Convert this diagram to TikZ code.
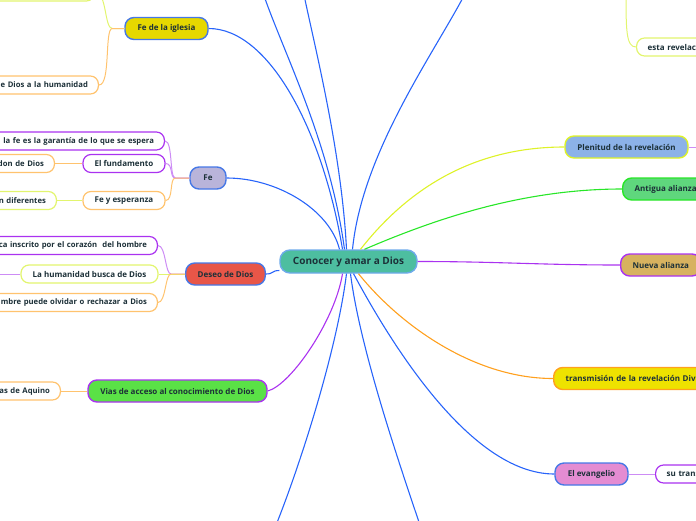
\documentclass[tikz,border=0pt]{standalone}
\usepackage{fontspec}
\setmainfont{Open Sans}
\definecolor{ink}{RGB}{28,48,56}
\definecolor{cblue}{RGB}{40,100,250}
\definecolor{bblue}{RGB}{70,120,230}
\definecolor{rootline}{RGB}{110,170,235}
\definecolor{cyel}{RGB}{222,242,40}
\definecolor{lyel}{RGB}{226,245,110}
\definecolor{cgreen}{RGB}{40,230,40}
\definecolor{cpurple}{RGB}{170,50,240}
\definecolor{lpurple}{RGB}{205,140,245}
\definecolor{corange}{RGB}{255,160,30}
\definecolor{lorange}{RGB}{255,195,110}
\definecolor{fteal}{RGB}{77,190,160}
\definecolor{fyellow}{RGB}{230,216,0}
\definecolor{fyellowb}{RGB}{238,226,0}
\definecolor{flav}{RGB}{185,180,218}
\definecolor{fred}{RGB}{232,86,72}
\definecolor{fgreen}{RGB}{90,225,70}
\definecolor{fsky}{RGB}{140,178,232}
\definecolor{fmint}{RGB}{95,215,125}
\definecolor{ftan}{RGB}{215,178,95}
\definecolor{fpink}{RGB}{228,140,210}

\begin{document}
\begin{tikzpicture}[x=1pt, y=-1pt,
	topic/.style={draw=bblue, line width=1.4pt, rounded corners=9pt, minimum height=22pt,
		inner xsep=12pt, inner ysep=0pt, text=ink, font=\fontsize{8}{9}\selectfont\bfseries},
	leaf/.style={draw, fill=white, line width=1.2pt, rounded corners=8pt, minimum height=18pt,
		inner xsep=11pt, inner ysep=0pt, text=ink, font=\fontsize{8}{9}\selectfont\bfseries},
	cutl/.style={leaf, anchor=east, text width=#1, align=right, inner xsep=10.5pt,
		font=\fontsize{7.7}{9}\selectfont\bfseries},
	cutr/.style={leaf, anchor=west, text width=#1, align=left},
	link/.style={line width=1.1pt},
	twig/.style={line width=1pt}]

	\clip (0,0) rectangle (696,520);

	\node[topic, fill=fteal, draw=rootline, minimum width=137pt, minimum height=23pt, rounded corners=10pt,
		font=\fontsize{10}{12}\selectfont\bfseries] (root) at (348.5,261.5) {Conocer y amar a Dios};

	% left side
	\node[topic, fill=fyellow, minimum width=83pt] (iglesia) at (166.5,28.5) {Fe de la iglesia};
	\node[cutl=150pt, draw=lyel] (ig1) at (95,-8) {};
	\node[cutl=150pt, draw=lorange] (ig2) at (99,85) {e Dios a la humanidad};

	\node[topic, fill=flav, minimum width=36pt] (fe) at (208,178) {Fe};
	\node[cutl=200pt, draw=cpurple] (fe1) at (165,141) {la fe es la garantía de lo que se espera};
	\node[leaf, draw=cpurple, minimum width=82pt] (fe2) at (124,163.5) {El fundamento};
	\node[cutl=120pt, draw=lorange] (fe21) at (55,163.5) {don de Dios};
	\node[leaf, draw=lorange, minimum width=82pt] (fe3) at (124,200.5) {Fe y esperanza};
	\node[cutl=120pt, draw=lyel] (fe31) at (57,200.5) {n diferentes};

	\node[topic, fill=fred, minimum width=79pt] (deseo) at (225.5,274) {Deseo de Dios};
	\node[cutl=220pt, draw=cpurple] (de1) at (158,245.5) {ca inscrito por el corazón\ \ del hombre};
	\node[leaf, draw=lyel, minimum width=137pt] (de2) at (89.5,274) {La humanidad busca de Dios};
	\node[cutl=220pt, draw=lorange] (de3) at (158,302.5) {mbre puede olvidar o rechazar a Dios};
	\coordinate (de2x) at (-10,274);

	\node[topic, fill=fgreen, draw=cpurple, minimum width=179pt] (vias) at (177.5,391) {Vias de acceso al conocimiento de Dios};
	\node[cutl=120pt, draw=lorange] (vi1) at (61,391) {as de Aquino};

	% right side
	\node[topic, fill=fsky, draw=cyel, minimum width=123pt] (plen) at (626.5,147) {Plenitud de la revelación};
	\coordinate (plenx) at (710,147);
	\node[cutr=100pt, draw=lyel] (rv1) at (636,47) {esta revelaci};
	\coordinate (rvtop) at (626,-10);

	\node[topic, fill=fmint, draw=cgreen, anchor=west] (antigua) at (622,189) {Antigua alianza};
	\node[topic, fill=ftan, draw=cpurple, anchor=west] (nueva) at (620,265) {Nueva alianza};
	\node[topic, fill=fyellowb, draw=corange, anchor=west, text width=200pt, align=left] (trans) at (553,378.5) {transmisión de la revelación Divi};
	\node[topic, fill=fpink, minimum width=73pt] (evang) at (591.5,474) {El evangelio};
	\node[cutr=100pt, draw=cpurple] (ev1) at (655,474) {su trans};

	% loose ends
	\coordinate (up1) at (262,-10);
	\coordinate (up2) at (303,-10);
	\coordinate (up3) at (468,-12);
	\coordinate (dn1) at (272,535);
	\coordinate (dn2) at (425,540);

	% %%%% from the root
	\draw[link, cblue] ([xshift=-6pt]root.north) .. controls +(-20,-120) and +(60,0) .. (iglesia.east);
	\draw[link, cblue] ([xshift=-9pt]root.north) .. controls +(-10,-40) and +(50,0) .. (fe.east);
	\draw[link, cblue] ([xshift=-4pt]root.north) .. controls +(-15,-110) and +(20,60) .. (up1);
	\draw[link, cblue] ([xshift=-2pt]root.north) .. controls +(-5,-100) and +(10,50) .. (up2);
	\draw[link, cblue] ([xshift=4pt]root.north) .. controls +(10,-100) and +(-30,60) .. (up3);
	\draw[link, cyel] ([xshift=12pt]root.north) .. controls +(55,-70) and +(-80,0) .. (plen.west);
	\draw[link, cgreen] ([xshift=16pt]root.north) .. controls +(70,-30) and +(-100,0) .. (antigua.west);
	\draw[link, cpurple] (root.east) .. controls +(80,0) and +(-80,0) .. (nueva.west);
	\draw[link, corange] ([xshift=10pt]root.south) .. controls +(40,50) and +(-80,0) .. (trans.west);
	\draw[link, cblue] ([xshift=5pt]root.south) .. controls +(35,65) and +(-85,0) .. (evang.west);
	\draw[link, cblue] ([xshift=-2pt]root.south) .. controls +(-10,80) and +(25,-60) .. (dn1);
	\draw[link, cblue] ([xshift=2pt]root.south) .. controls +(10,80) and +(-20,-60) .. (dn2);
	\draw[link, cpurple] ([xshift=-6pt]root.south) .. controls +(-7.5,47) and +(23,-6) .. (vias.east);
	\draw[link, cblue] ([yshift=-9pt]root.west) .. controls +(-8,0) and +(8,0) .. (deseo.east);

	% %%%% branches
	\draw[twig, lyel] (iglesia.west) -- ++(-12,0) .. controls +(-8,0) and +(12,0) .. (ig1.east);
	\draw[twig, lorange] (iglesia.west) -- ++(-12,0) .. controls +(-8,0) and +(12,0) .. (ig2.east);

	\draw[twig, lpurple] (fe.west) -- ++(-14,0) .. controls +(-6,0) and +(8,0) .. (fe1.east);
	\draw[twig, lpurple] (fe.west) -- ++(-14,0) .. controls +(-6,0) and +(8,0) .. (fe2.east);
	\draw[twig, lorange] (fe.west) -- ++(-14,0) .. controls +(-6,0) and +(8,0) .. (fe3.east);
	\draw[twig, lorange] (fe2.west) -- (fe21.east);
	\draw[twig, lyel] (fe3.west) -- (fe31.east);

	\draw[twig, lpurple] (deseo.west) -- ++(-14,0) .. controls +(-6,0) and +(8,0) .. (de1.east);
	\draw[twig, lyel] (deseo.west) -- (de2.east);
	\draw[twig, lorange] (deseo.west) -- ++(-14,0) .. controls +(-6,0) and +(8,0) .. (de3.east);
	\draw[twig, lpurple] (de2.west) -- (de2x);

	\draw[twig, lorange] (vias.west) -- (vi1.east);

	\draw[twig, lpurple] (plen.east) -- (plenx);
	\draw[twig, lyel] (rvtop) .. controls +(0,40) and +(-10,0) .. (rv1.west);
	\draw[twig, lpurple] (evang.east) -- (ev1.west);

\end{tikzpicture}
\end{document}
